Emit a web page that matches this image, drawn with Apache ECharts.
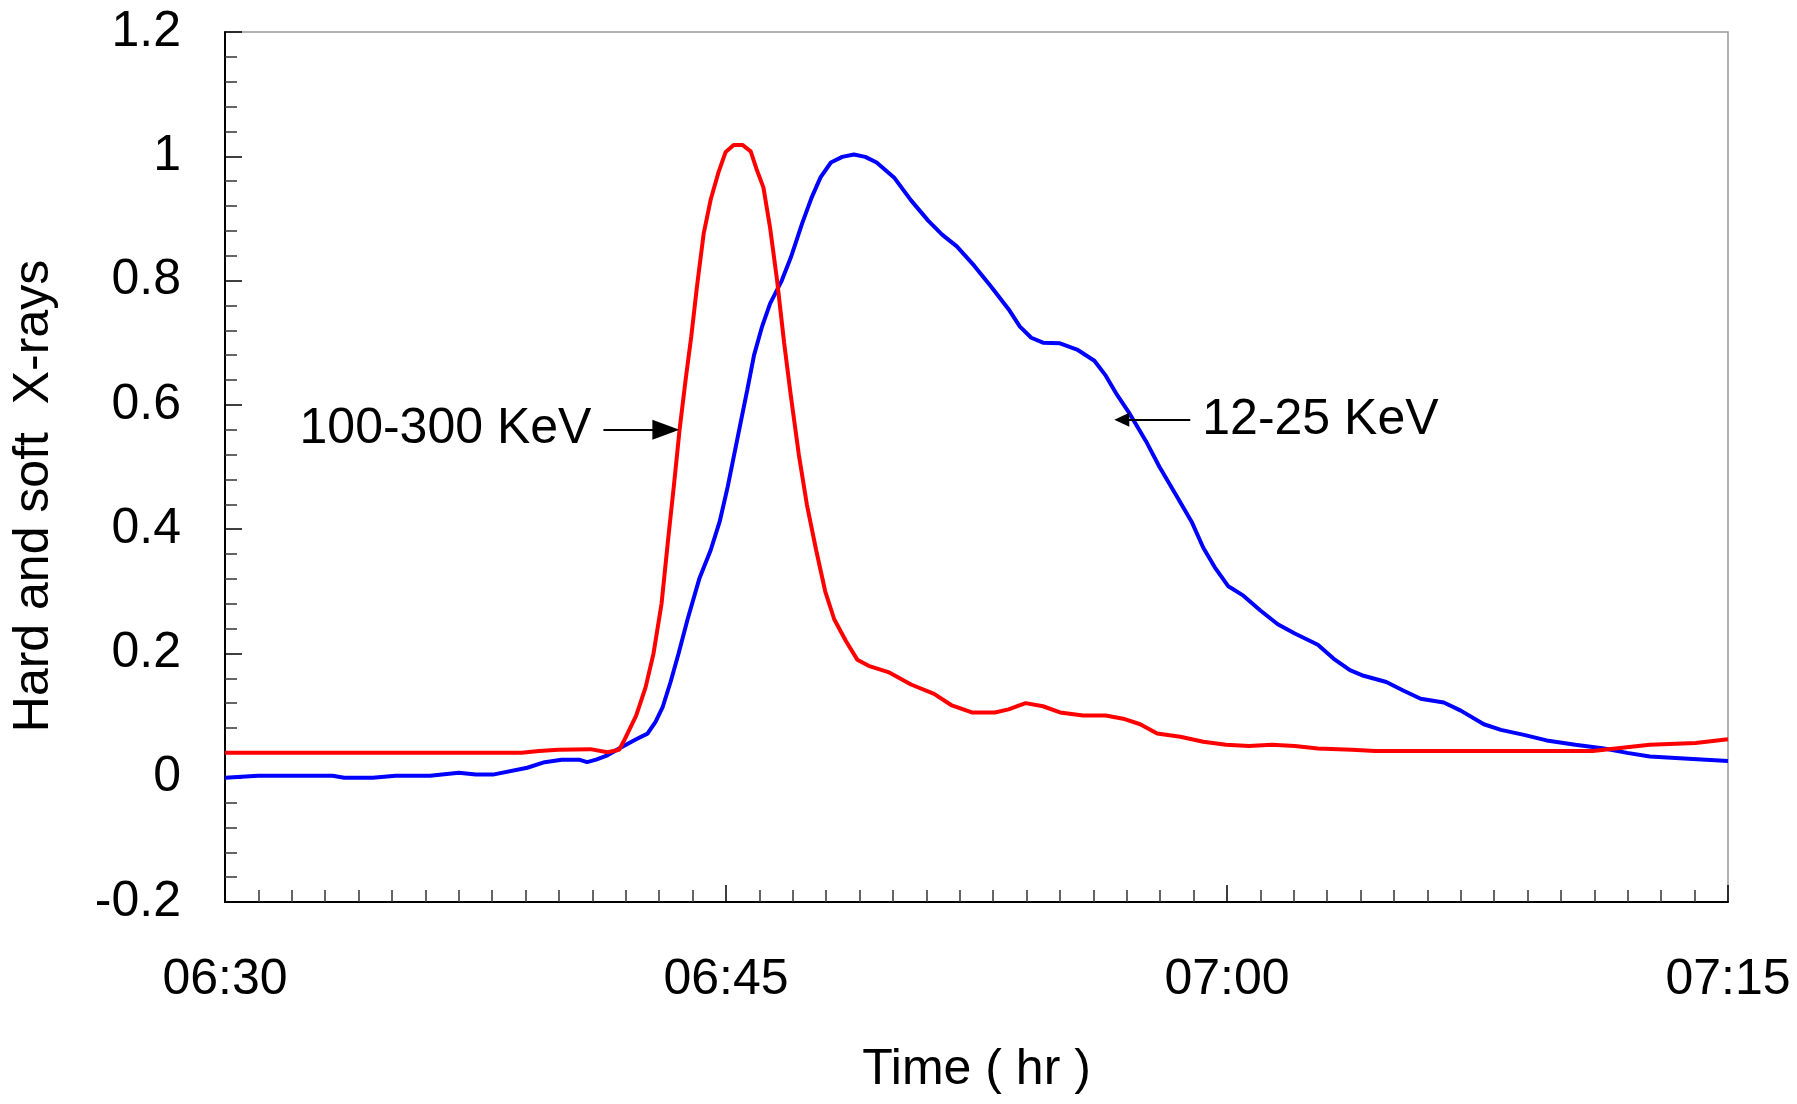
<!DOCTYPE html>
<html>
<head>
<meta charset="utf-8">
<title>Hard and soft X-rays</title>
<script src="https://cdn.jsdelivr.net/npm/echarts@6/dist/echarts.min.js"></script>
<style>
  html, body { margin: 0; padding: 0; background: #fff; }
  #chart { width: 1797px; height: 1104px; }
</style>
</head>
<body>
<div id="chart"></div>
<script>
// minutes after 06:30
const startHour = 6
const startMinute = 30

const hardTime = [0, 8.88, 9.4, 9.98, 10.94, 11.45, 11.8, 11.97, 12.31, 12.59, 12.83, 13.07, 13.27, 13.44,
  13.61, 13.79, 13.96, 14.13, 14.33, 14.54, 14.78, 14.99, 15.23, 15.5, 15.74, 15.91, 16.12, 16.32, 16.53,
  16.74, 16.94, 17.18, 17.42, 17.7, 17.97, 18.24, 18.59, 18.93, 19.27, 19.86, 20.54, 21.23, 21.74, 22.36,
  23.05, 23.46, 23.97, 24.49, 25.0, 25.69, 26.37, 26.89, 27.4, 27.91, 28.6, 29.29, 29.97, 30.66, 31.34,
  32.03, 32.72, 33.74, 34.43, 40.95, 41.97, 42.66, 44.03, 45]
const hardValue = [0.04, 0.04, 0.043, 0.045, 0.046, 0.041, 0.045, 0.062, 0.1, 0.145, 0.2, 0.28, 0.385, 0.47,
  0.56, 0.64, 0.71, 0.79, 0.875, 0.93, 0.975, 1.007, 1.018, 1.018, 1.008, 0.98, 0.95, 0.885, 0.8,
  0.7, 0.615, 0.52, 0.44, 0.366, 0.3, 0.255, 0.22, 0.19, 0.18, 0.17, 0.15, 0.135, 0.117, 0.105,
  0.105, 0.11, 0.12, 0.115, 0.105, 0.1, 0.1, 0.095, 0.086, 0.071, 0.066, 0.058, 0.053, 0.051, 0.053,
  0.051, 0.047, 0.045, 0.043, 0.043, 0.049, 0.053, 0.056, 0.062]

const softTime = [0, 0.99, 3.22, 3.57, 4.42, 5.11, 6.14, 7.0, 7.51, 8.02, 9.05, 9.57, 10.08, 10.6, 10.84,
  11.11, 11.45, 11.8, 12.31, 12.65, 12.89, 13.1, 13.34, 13.58, 13.85, 14.2, 14.54, 14.81, 15.05, 15.29,
  15.5, 15.64, 15.84, 16.08, 16.32, 16.67, 16.94, 17.28, 17.56, 17.83, 18.14, 18.48, 18.83, 19.17, 19.51,
  20.03, 20.54, 21.06, 21.47, 21.91, 22.43, 22.94, 23.46, 23.8, 24.14, 24.49, 25.0, 25.51, 26.03, 26.37,
  26.71, 27.06, 27.57, 27.98, 28.43, 28.94, 29.29, 29.63, 30.04, 30.49, 31.0, 31.52, 32.03, 32.72, 33.23,
  33.68, 34.09, 34.77, 35.29, 35.8, 36.49, 37.0, 37.69, 38.2, 38.89, 39.57, 40.43, 41.29, 41.98, 42.66,
  43.69, 45]
const softValue = [0, 0.003, 0.003, 0, 0, 0.003, 0.003, 0.008, 0.005, 0.005, 0.016, 0.025, 0.029, 0.029, 0.025,
  0.029, 0.036, 0.047, 0.062, 0.071, 0.09, 0.113, 0.154, 0.2, 0.255, 0.32, 0.366, 0.412, 0.468, 0.532,
  0.588, 0.625, 0.68, 0.726, 0.763, 0.8, 0.837, 0.892, 0.933, 0.966, 0.99, 0.999, 1.003, 0.999, 0.99,
  0.966, 0.929, 0.896, 0.874, 0.855, 0.824, 0.79, 0.754, 0.726, 0.708, 0.7, 0.699, 0.689, 0.671, 0.647,
  0.616, 0.588, 0.542, 0.5, 0.459, 0.412, 0.37, 0.339, 0.308, 0.293, 0.269, 0.247, 0.232, 0.214, 0.19,
  0.173, 0.164, 0.154, 0.14, 0.127, 0.121, 0.108, 0.086, 0.077, 0.069, 0.06, 0.053, 0.047, 0.04, 0.034,
  0.031, 0.027]

// arrow annotations: [fromMinute, toMinute, value]
const hardArrow = [11.33, 13.2, 0.56]
const softArrow = [28.9, 26.85, 0.576]

const FONT = "'Liberation Sans', Arial, sans-serif"

function clockLabel(m) {
  const total = startHour * 60 + startMinute + m
  const hh = String(Math.floor(total / 60)).padStart(2, '0')
  const mm = String(total % 60).padStart(2, '0')
  return hh + ':' + mm
}

function arrowMark(arrow, text, headSize) {
  return {
    silent: true,
    animation: false,
    symbol: ['none', 'triangle'],
    symbolSize: headSize,
    lineStyle: { color: '#000', width: 2, type: 'solid' },
    label: {
      show: true,
      position: 'start',
      formatter: text,
      color: '#000',
      fontSize: 50,
      fontFamily: FONT,
      distance: 12,
    },
    data: [[{ coord: [arrow[0], arrow[2]] }, { coord: [arrow[1], arrow[2]] }]],
  }
}

const chart = echarts.init(document.getElementById('chart'))

chart.setOption({
  animation: false,
  backgroundColor: '#fff',
  textStyle: { fontFamily: FONT },
  grid: {
    left: 225, right: 69, top: 32, bottom: 202,
    show: true, borderColor: '#999', borderWidth: 1.5,
  },
  xAxis: {
    type: 'value',
    min: 0,
    max: 45,
    interval: 15,
    name: 'Time ( hr )',
    nameLocation: 'middle',
    nameGap: 143,
    nameTextStyle: { color: '#000', fontSize: 50, fontFamily: FONT },
    axisLine: { onZero: false, lineStyle: { color: '#000', width: 2 } },
    axisTick: { inside: true, length: 17, lineStyle: { color: '#000', width: 1.5 } },
    minorTick: { show: true, splitNumber: 15, length: 12, lineStyle: { color: '#333', width: 1.5 } },
    splitLine: { show: false },
    axisLabel: {
      color: '#000', fontSize: 50, fontFamily: FONT, margin: 53,
      formatter: clockLabel,
    },
  },
  yAxis: {
    type: 'value',
    min: -0.2,
    max: 1.2,
    interval: 0.2,
    name: 'Hard and soft  X-rays',
    nameLocation: 'middle',
    nameGap: 166,
    nameTextStyle: { color: '#000', fontSize: 50, fontFamily: FONT, padding: [0, 58, 0, 0] },
    axisLine: { onZero: false, lineStyle: { color: '#000', width: 2 } },
    axisTick: { inside: true, length: 17, lineStyle: { color: '#000', width: 1.5 } },
    minorTick: { show: true, splitNumber: 5, length: 12, lineStyle: { color: '#333', width: 1.5 } },
    splitLine: { show: false },
    axisLabel: { color: '#000', fontSize: 50, fontFamily: FONT, margin: 44 },
  },
  series: [
    {
      name: '100-300 KeV',
      type: 'line',
      showSymbol: false,
      data: hardTime.map((t, i) => [t, hardValue[i]]),
      lineStyle: { color: '#ff0000', width: 4 },
      itemStyle: { color: '#ff0000' },
      z: 3,
      markLine: arrowMark(hardArrow, '100-300 KeV', [20, 27]),
    },
    {
      name: '12-25 KeV',
      type: 'line',
      showSymbol: false,
      data: softTime.map((t, i) => [t, softValue[i]]),
      lineStyle: { color: '#0000ff', width: 4 },
      itemStyle: { color: '#0000ff' },
      z: 2,
      markLine: arrowMark(softArrow, '12-25 KeV', [14, 15]),
    },
  ],
})
</script>
</body>
</html>
